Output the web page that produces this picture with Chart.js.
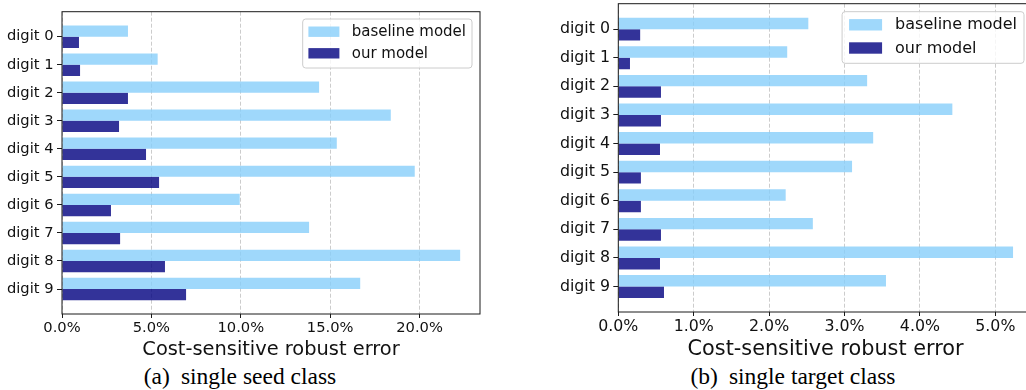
<!DOCTYPE html>
<html>
<head>
<meta charset="utf-8">
<script src="https://cdn.jsdelivr.net/npm/chart.js@4.4.1/dist/chart.umd.min.js"></script>
<style>
  html, body { margin: 0; padding: 0; background: #fff; overflow: hidden; width: 1026px; height: 390px; }
  .wrap { position: relative; width: 1026px; height: 390px; overflow: hidden; }
  canvas { position: absolute; top: 0; }
  #seedChart { left: 0; }
  #targetChart { left: 520px; }
  .caption {
    position: absolute; top: 365px;
    font-family: "Liberation Serif", "Times New Roman", serif;
    font-size: 23.5px; line-height: 23px; white-space: nowrap;
    transform: translateX(-50%); color: #000;
  }
  .caption span { margin-right: 11px; }
</style>
</head>
<body>
<div class="wrap">
  <canvas id="seedChart" width="510" height="362"></canvas>
  <canvas id="targetChart" width="530" height="362"></canvas>
  <div class="caption" style="left:240px"><span>(a)</span>single seed class</div>
  <div class="caption" style="left:793px"><span>(b)</span>single target class</div>
</div>
<script>
const digits = ['digit 0', 'digit 1', 'digit 2', 'digit 3', 'digit 4', 'digit 5', 'digit 6', 'digit 7', 'digit 8', 'digit 9'];
const seriesNames = ['baseline model', 'our model'];
const axisTitle = 'Cost-sensitive robust error';

// error rates in percent
const seedBaseline = [3.69, 5.35, 14.38, 18.39, 15.37, 19.73, 9.94, 13.82, 22.27, 16.68];
const seedOurs = [0.95, 1.01, 3.69, 3.19, 4.70, 5.43, 2.74, 3.25, 5.76, 6.94];
const seedTicks = [0, 5, 10, 15, 20];

const targetBaseline = [2.52, 2.24, 3.30, 4.43, 3.38, 3.10, 2.22, 2.58, 5.235, 3.55];
const targetOurs = [0.29, 0.155, 0.566, 0.566, 0.553, 0.30, 0.30, 0.566, 0.553, 0.606];
const targetTicks = [0, 1, 2, 3, 4, 5];

const colors = ['rgba(135,206,250,0.8)', 'rgba(0,0,128,0.8)'];
const sans = '"DejaVu Sans", sans-serif';

// four-sided frame around the plot area
const framePlugin = {
  id: 'frame',
  afterDraw(chart) {
    const { ctx, chartArea: a } = chart;
    ctx.save();
    ctx.strokeStyle = '#1a1a1a';
    ctx.lineWidth = 1;
    ctx.strokeRect(a.left, a.top, a.right - a.left, a.bottom - a.top);
    ctx.restore();
  }
};

// boxed legend in the upper right corner of the plot area
const boxLegend = {
  id: 'boxLegend',
  afterDraw(chart, args, o) {
    const { ctx, chartArea: a } = chart;
    ctx.save();
    ctx.font = `${o.fontSize}px ${sans}`;
    const textW = Math.max(...seriesNames.map((n) => ctx.measureText(n).width));
    const w = o.textX + textW + o.padRight;
    const x = a.right - o.right - w;
    const y = a.top + o.top;
    ctx.beginPath();
    ctx.roundRect(x, y, w, o.height, 3);
    ctx.fillStyle = 'rgba(255,255,255,0.8)';
    ctx.fill();
    ctx.strokeStyle = '#cccccc';
    ctx.lineWidth = 1;
    ctx.stroke();
    ctx.textBaseline = 'middle';
    seriesNames.forEach((name, i) => {
      const cy = y + o.rows[i];
      ctx.fillStyle = colors[i];
      ctx.fillRect(x + o.patchX, cy - o.patchH / 2, o.patchW, o.patchH);
      ctx.fillStyle = '#111';
      ctx.fillText(name, x + o.textX, cy + 0.5);
    });
    ctx.restore();
  }
};

function noEdgePadding(s) {
  s.paddingTop = 0;
  s.paddingBottom = 0;
  s.paddingLeft = 0;
  s.paddingRight = 0;
}

function makeChart(id, baseline, ours, ticks, cfg) {
  return new Chart(document.getElementById(id), {
    type: 'bar',
    data: {
      datasets: [
        { label: seriesNames[0], data: baseline.map((x, y) => ({ x, y })), backgroundColor: colors[0], categoryPercentage: 0.8, barPercentage: 1 },
        { label: seriesNames[1], data: ours.map((x, y) => ({ x, y })), backgroundColor: colors[1], categoryPercentage: 0.8, barPercentage: 1 }
      ]
    },
    options: {
      indexAxis: 'y',
      responsive: false,
      animation: false,
      events: [],
      layout: { padding: cfg.padding },
      plugins: {
        legend: { display: false },
        tooltip: { enabled: false },
        boxLegend: cfg.legend
      },
      scales: {
        y: {
          type: 'linear',
          reverse: true,
          offset: false,
          min: -0.89,
          max: 9.89,
          afterBuildTicks: (s) => { s.ticks = digits.map((_, i) => ({ value: i })); },
          afterFit: (s) => { s.width = cfg.yWidth; noEdgePadding(s); },
          grid: { offset: false, drawOnChartArea: false, tickLength: 5, tickColor: '#1a1a1a', tickWidth: 1 },
          border: { display: false },
          ticks: { padding: cfg.yPad, color: '#111', font: { family: sans, size: cfg.tickSize }, callback: (v) => digits[v] }
        },
        x: {
          type: 'linear',
          min: 0,
          max: cfg.xMax,
          z: 1,
          afterBuildTicks: (s) => { s.ticks = ticks.map((v) => ({ value: v })); },
          afterFit: (s) => { s.height = cfg.xHeight; noEdgePadding(s); },
          grid: { color: 'rgba(0,0,0,0.2)', lineWidth: 1, tickLength: 4, tickColor: '#1a1a1a', tickWidth: 1 },
          border: { display: false, dash: [4, 2] },
          ticks: { padding: cfg.xPad, color: '#111', font: { family: sans, size: cfg.tickSize }, callback: (v) => v.toFixed(1) + '%' },
          title: { display: true, text: axisTitle, color: '#111', padding: 0, font: { family: sans, size: cfg.titleSize } }
        }
      }
    },
    plugins: [framePlugin, boxLegend]
  });
}

makeChart('seedChart', seedBaseline, seedOurs, seedTicks, {
  padding: { left: 0, top: 11.7, right: 30, bottom: 0 },
  yWidth: 62, xHeight: 48, xMax: 23.38, yPad: 3.5, xPad: 1.5,
  tickSize: 14.7, titleSize: 19.4,
  legend: { fontSize: 15, right: 8, top: 7.3, height: 49, rows: [12.7, 34.3], patchX: 5.7, patchW: 31, patchH: 10.4, textX: 49, padRight: 6 }
});

makeChart('targetChart', targetBaseline, targetOurs, targetTicks, {
  padding: { left: 0, top: 3.7, right: 17.2, bottom: 0 },
  yWidth: 98.3, xHeight: 50, xMax: 5.497, yPad: 3.3, xPad: 1,
  tickSize: 15.8, titleSize: 20.8,
  legend: { fontSize: 16, right: 8.8, top: 8, height: 51.6, rows: [13.1, 36.3], patchX: 7, patchW: 33, patchH: 11.4, textX: 53, padRight: 7 }
});
</script>
</body>
</html>
